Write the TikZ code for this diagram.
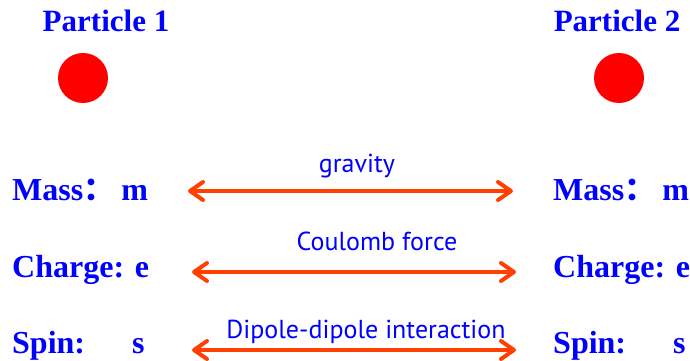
\documentclass[tikz,border=0pt]{standalone}
\usepackage{fontspec}
\setmainfont{Liberation Serif}
\newfontfamily\labfont{PT Sans}
\newfontfamily\cjk{Noto Sans CJK SC}
\usetikzlibrary{arrows.meta}
\definecolor{txtblue}{RGB}{0,0,255}
\definecolor{arrred}{RGB}{255,64,0}
\definecolor{ballred}{RGB}{255,0,0}
\tikzset{
  title/.style={font=\fontsize{31}{31}\selectfont\bfseries, text=txtblue, inner sep=0pt, anchor=base},
  prop/.style={font=\fontsize{32}{32}\selectfont\bfseries, text=txtblue, inner sep=0pt, anchor=base west},
  lab/.style={font=\labfont\fontsize{26}{26}\selectfont, text=txtblue, inner sep=0pt, anchor=base},
  ball/.style={circle, fill=ballred, minimum size=50pt, inner sep=0pt},
  force/.style={draw=arrred, line width=4pt, line cap=round,
    {Straight Barb[length=13pt, width=18pt, line cap=round, line join=round]}-{Straight Barb[length=13pt, width=18pt, line cap=round, line join=round]}}
}
\begin{document}
\begin{tikzpicture}[x=1pt, y=-1pt]
\useasboundingbox (0,0) rectangle (690,361);
\node[title] (p1) at (106,32) {Particle 1};
\node[title] (p2) at (617,32) {Particle 2};
\node[ball] (b1) at (83,78) {};
\node[ball] (b2) at (619,78) {};

\node[prop] (m1) at (12,200) {Mass{\cjk ：}\hspace{6pt}m};
\node[prop] (c1) at (12,277) {Charge: e};
\node[prop] (s1) at (12,353) {Spin:\hspace{47pt}s};
\node[prop] (m2) at (553,200) {Mass{\cjk ：}\hspace{6pt}m};
\node[prop] (c2) at (553,277) {Charge: e};
\node[prop] (s2) at (553,353) {Spin:\hspace{47pt}s};

\coordinate (g1) at (188,191); \coordinate (g2) at (513,191);
\coordinate (k1) at (192,272); \coordinate (k2) at (516,272);
\coordinate (d1) at (192,350); \coordinate (d2) at (516,350);
\draw[force] (g1) -- (g2);
\draw[force] (k1) -- (k2);
\draw[force] (d1) -- (d2);

\node[lab] (lg) at (357,172) {gravity};
\node[lab] (lc) at (377,250) {Coulomb force};
\node[lab] (ld) at (366,338) {Dipole-dipole interaction};
\end{tikzpicture}
\end{document}
